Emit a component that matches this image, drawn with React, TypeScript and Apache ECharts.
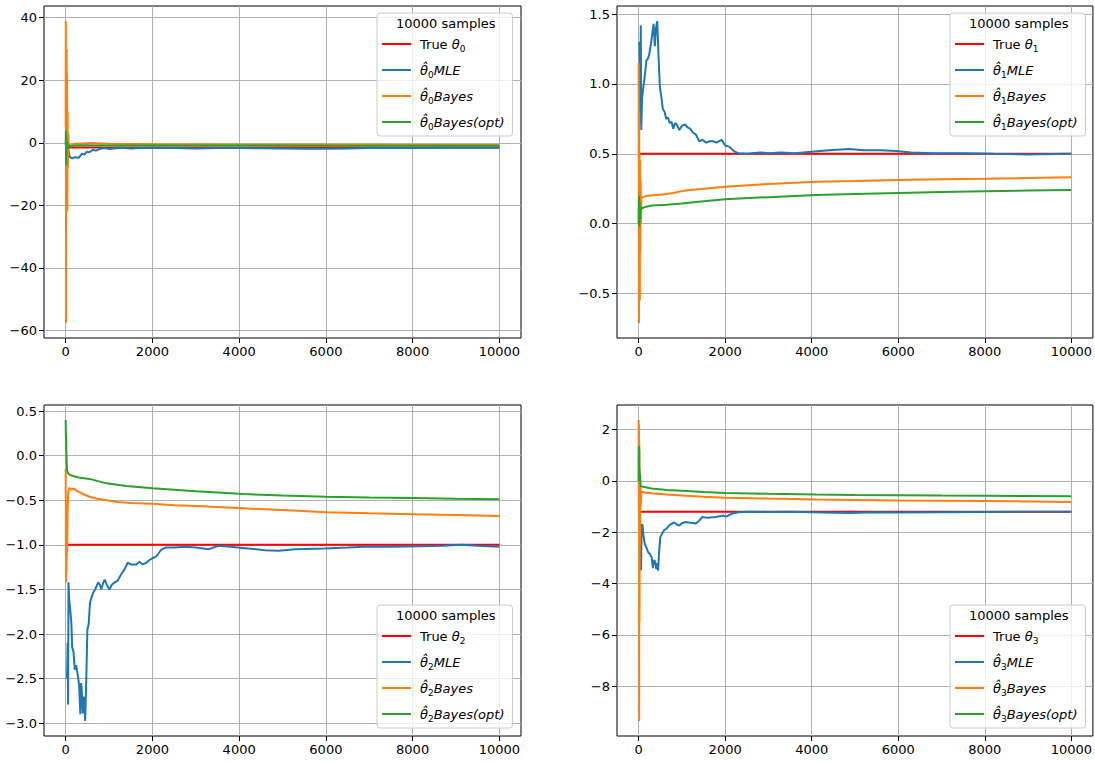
import React, { useEffect, useRef } from 'react';
import * as echarts from 'echarts';

// ---------- data ----------
const xTicks = [0, 2000, 4000, 6000, 8000, 10000];
const yTicks0 = [-60, -40, -20, 0, 20, 40];
const yTicks1 = [-0.5, 0.0, 0.5, 1.0, 1.5];
const yTicks2 = [-3.0, -2.5, -2.0, -1.5, -1.0, -0.5, 0.0, 0.5];
const yTicks3 = [-8, -6, -4, -2, 0, 2];
const yDecimals = [0, 1, 1, 0];

const legendTitle = '10000 samples';
const lastSample = 9999;
const trueTheta = [-1.5, 0.5, -1.0, -1.2];

type P = [number, number][];

const mle0: P = [[5, -0.2], [20, -1.0], [40, -3.0], [60, -2.0], [90, -4.5], [150, -5.0], [220, -4.6], [300, -4.8], [380, -3.5], [430, -3.8], [480, -2.9], [550, -3.0], [620, -2.3], [700, -2.5], [800, -1.9], [900, -1.7], [1000, -2.0], [1100, -1.8], [1300, -1.6], [1500, -1.8], [1700, -1.7], [2000, -1.6], [2500, -1.7], [3000, -1.8], [3500, -1.7], [4000, -1.7], [4500, -1.75], [5000, -1.8], [5500, -1.9], [6000, -1.95], [6500, -1.8], [7000, -1.7], [8000, -1.65], [9000, -1.6], [9999, -1.6]];
const bayes0: P = [[0, 5], [3, 38.9], [6, 20], [9, -57.6], [13, 25], [17, -15], [22, 30], [27, -5], [32, 22], [38, -22], [45, 10], [52, -8], [60, 3], [70, -1], [90, -0.6], [120, -1.0], [200, -0.3], [400, -0.2], [600, -0.1], [800, -0.2], [1000, -0.3], [1500, -0.4], [2000, -0.5], [4000, -0.6], [6000, -0.65], [8000, -0.7], [9999, -0.7]];
const opt0: P = [[0, -1], [5, 3.8], [10, -7.2], [15, 2], [20, -4], [30, 0.5], [45, -2], [60, -0.8], [100, -1.2], [200, -0.9], [400, -0.8], [1000, -0.85], [2000, -0.9], [4000, -0.9], [6000, -0.92], [8000, -0.93], [9999, -0.95]];

const mle1: P = [[5, 1.28], [20, 1.3], [35, 0.72], [50, 1.42], [60, 0.67], [80, 0.9], [110, 0.98], [140, 1.05], [180, 1.17], [215, 1.18], [250, 1.22], [290, 1.3], [320, 1.37], [345, 1.43], [375, 1.27], [400, 1.4], [430, 1.45], [460, 1.2], [490, 0.98], [520, 0.92], [560, 0.82], [600, 0.8], [640, 0.75], [680, 0.76], [720, 0.72], [760, 0.73], [800, 0.68], [840, 0.72], [880, 0.71], [940, 0.67], [1000, 0.7], [1070, 0.71], [1130, 0.69], [1190, 0.68], [1260, 0.65], [1320, 0.64], [1400, 0.59], [1480, 0.6], [1560, 0.58], [1640, 0.59], [1720, 0.59], [1800, 0.58], [1920, 0.6], [2000, 0.56], [2100, 0.55], [2200, 0.52], [2300, 0.505], [2500, 0.5], [2800, 0.51], [3000, 0.505], [3300, 0.51], [3600, 0.505], [4000, 0.515], [4400, 0.525], [4870, 0.535], [5200, 0.525], [5600, 0.525], [5950, 0.52], [6300, 0.51], [6800, 0.505], [7500, 0.505], [8200, 0.5], [9000, 0.495], [9999, 0.5]];
const bayes1: P = [[0, 1.15], [4, 0.3], [8, -0.71], [12, 0.8], [17, -0.3], [22, 0.5], [28, -0.55], [34, 0.45], [40, -0.2], [48, 0.3], [55, 0.0], [65, 0.19], [100, 0.19], [200, 0.2], [400, 0.205], [600, 0.21], [800, 0.22], [1030, 0.235], [1500, 0.25], [2000, 0.265], [3000, 0.285], [4100, 0.3], [5000, 0.305], [6000, 0.313], [7000, 0.318], [8000, 0.322], [9000, 0.327], [9999, 0.332]];
const opt1: P = [[0, 0.0], [8, 0.2], [15, -0.02], [25, 0.15], [35, 0.03], [50, 0.12], [80, 0.11], [150, 0.12], [300, 0.13], [650, 0.135], [1000, 0.145], [1500, 0.16], [2000, 0.175], [3000, 0.19], [4100, 0.205], [5000, 0.212], [6000, 0.22], [7000, 0.226], [8000, 0.232], [9000, 0.237], [9999, 0.242]];

const mle2: P = [[30, -2.5], [45, -2.1], [55, -2.79], [65, -1.42], [80, -1.6], [100, -1.7], [130, -1.87], [150, -2.15], [180, -2.2], [210, -2.4], [240, -2.35], [260, -2.4], [290, -2.5], [310, -2.58], [330, -2.8], [340, -2.9], [355, -2.55], [370, -2.62], [385, -2.8], [400, -2.89], [420, -2.7], [450, -2.975], [470, -2.6], [480, -2.4], [500, -1.95], [530, -1.89], [560, -1.65], [590, -1.6], [630, -1.54], [680, -1.5], [750, -1.42], [790, -1.45], [820, -1.5], [870, -1.42], [900, -1.39], [950, -1.45], [1010, -1.5], [1060, -1.45], [1130, -1.42], [1200, -1.4], [1280, -1.33], [1350, -1.28], [1430, -1.2], [1500, -1.22], [1630, -1.22], [1700, -1.19], [1780, -1.22], [1860, -1.2], [1930, -1.17], [2000, -1.15], [2090, -1.13], [2200, -1.055], [2300, -1.03], [2500, -1.03], [2760, -1.02], [3000, -1.03], [3290, -1.05], [3520, -1.01], [3800, -1.02], [4200, -1.04], [4600, -1.06], [4900, -1.066], [5300, -1.05], [5970, -1.04], [6500, -1.03], [6900, -1.02], [7500, -1.02], [8200, -1.015], [8700, -1.01], [9130, -1.0], [9500, -1.01], [9999, -1.02]];
const bayes2: P = [[0, -0.15], [5, -0.8], [10, -1.42], [15, -0.5], [20, -1.3], [28, -0.7], [35, -1.1], [45, -0.6], [55, -0.45], [70, -0.38], [90, -0.36], [120, -0.38], [180, -0.37], [280, -0.4], [400, -0.43], [550, -0.46], [700, -0.48], [940, -0.5], [1200, -0.52], [1500, -0.53], [2000, -0.54], [2500, -0.555], [3000, -0.565], [4100, -0.59], [5000, -0.61], [6000, -0.633], [7000, -0.645], [8000, -0.656], [9000, -0.665], [9999, -0.675]];
const opt2: P = [[0, 0.4], [5, 0.2], [10, 0.25], [15, 0.05], [25, -0.1], [30, -0.16], [60, -0.2], [100, -0.215], [170, -0.227], [300, -0.245], [550, -0.26], [940, -0.31], [1400, -0.34], [2000, -0.365], [3000, -0.4], [4100, -0.43], [5000, -0.445], [6000, -0.46], [7000, -0.468], [8000, -0.475], [9000, -0.482], [9999, -0.488]];

const mle3: P = [[40, -1.66], [55, -3.48], [70, -1.7], [90, -1.72], [110, -2.1], [140, -2.45], [180, -2.6], [220, -2.78], [260, -2.85], [300, -2.97], [330, -3.4], [350, -3.1], [370, -3.1], [410, -3.43], [430, -3.2], [450, -3.5], [470, -2.85], [500, -2.19], [560, -2.0], [600, -1.9], [640, -1.87], [700, -1.75], [750, -1.68], [820, -1.62], [880, -1.7], [940, -1.74], [1000, -1.65], [1090, -1.6], [1200, -1.63], [1320, -1.66], [1400, -1.55], [1470, -1.41], [1600, -1.44], [1700, -1.42], [1780, -1.41], [1870, -1.38], [1970, -1.35], [2030, -1.39], [2100, -1.32], [2190, -1.26], [2300, -1.22], [2570, -1.2], [3000, -1.21], [3500, -1.2], [4000, -1.22], [4870, -1.25], [5500, -1.22], [6000, -1.23], [7000, -1.22], [8000, -1.21], [9000, -1.2], [9999, -1.2]];
const bayes3: P = [[0, 2.37], [4, -1.0], [8, 2.2], [12, -9.35], [16, 1.5], [21, -5.5], [26, 0.5], [32, -2.5], [40, -0.2], [50, -1.0], [60, -0.45], [80, -0.42], [110, -0.44], [300, -0.48], [650, -0.53], [1000, -0.57], [1500, -0.62], [2000, -0.66], [3000, -0.69], [4100, -0.72], [5000, -0.74], [6000, -0.76], [7000, -0.77], [8000, -0.78], [9000, -0.8], [9999, -0.82]];
const opt3: P = [[0, 0.0], [5, 1.37], [10, 0.5], [15, 1.2], [20, 0.0], [30, 0.3], [45, -0.15], [60, -0.22], [100, -0.23], [300, -0.3], [650, -0.35], [1000, -0.38], [1500, -0.43], [2000, -0.47], [3000, -0.5], [4100, -0.53], [5000, -0.545], [6000, -0.555], [7000, -0.57], [8000, -0.58], [9000, -0.59], [9999, -0.6]];

const mleSeries = [mle0, mle1, mle2, mle3];
const bayesSeries = [bayes0, bayes1, bayes2, bayes3];
const optSeries = [opt0, opt1, opt2, opt3];
const yTickSets = [yTicks0, yTicks1, yTicks2, yTicks3];
const subscripts = ['₀', '₁', '₂', '₃'];
const subDigits = ['0', '1', '2', '3'];

// ---------- layout / style ----------
const FONT = 'DejaVu Sans';
const COLORS = { true: '#ff0000', mle: '#1f77b4', bayes: '#ff7f0e', opt: '#2ca02c' };
const GRIDS = [
  { left: 44, top: 6, width: 477, height: 332 },
  { left: 617, top: 6, width: 477, height: 332 },
  { left: 44, top: 405, width: 477, height: 331 },
  { left: 617, top: 405, width: 477, height: 331 },
];
const LEGEND_POS = [
  { left: 377, top: 13 },
  { left: 950, top: 13 },
  { left: 377, top: 605 },
  { left: 950, top: 605 },
];

const fmt = (v: number, d: number) => {
  const s = Math.abs(v) < 1e-9 ? (0).toFixed(d) : v.toFixed(d);
  return s.replace('-', '\u2212');
};

function buildOption() {
  const grid: any[] = [];
  const xAxis: any[] = [];
  const yAxis: any[] = [];
  const series: any[] = [];
  const legend: any[] = [];
  const graphic: any[] = [];

  for (let i = 0; i < 4; i++) {
    const g = GRIDS[i];
    grid.push({ ...g, show: true, borderColor: '#000', borderWidth: 1, backgroundColor: 'transparent' });
    const pad = (e: any) => 0.05 * (e.max - e.min);
    xAxis.push({
      type: 'value',
      gridIndex: i,
      min: (e: any) => e.min - pad(e),
      max: (e: any) => e.max + pad(e),
      axisLine: { show: false, onZero: false },
      axisTick: { show: true, customValues: xTicks, length: 5, lineStyle: { color: '#000', width: 1 } },
      axisLabel: { customValues: xTicks, color: '#000', fontSize: 13, fontFamily: FONT, margin: 7, formatter: (v: number) => fmt(v, 0) },
      splitLine: { show: true, lineStyle: { color: '#b0b0b0', width: 1 } },
    });
    yAxis.push({
      type: 'value',
      gridIndex: i,
      min: (e: any) => e.min - pad(e),
      max: (e: any) => e.max + pad(e),
      axisLine: { show: false, onZero: false },
      axisTick: { show: true, customValues: yTickSets[i], length: 5, lineStyle: { color: '#000', width: 1 } },
      axisLabel: { customValues: yTickSets[i], color: '#000', fontSize: 13, fontFamily: FONT, margin: 7, formatter: (v: number) => fmt(v, yDecimals[i]) },
      splitLine: { show: true, lineStyle: { color: '#b0b0b0', width: 1 } },
    });

    const sub = subscripts[i];
    const names = [`True θ${sub}`, `θ̂${sub}MLE`, `θ̂${sub}Bayes`, `θ̂${sub}Bayes(opt)`];
    const datas: P[] = [[[0, trueTheta[i]], [lastSample, trueTheta[i]]], mleSeries[i], bayesSeries[i], optSeries[i]];
    const cols = [COLORS.true, COLORS.mle, COLORS.bayes, COLORS.opt];
    names.forEach((n, k) => {
      series.push({
        type: 'line',
        name: n,
        xAxisIndex: i,
        yAxisIndex: i,
        data: datas[k],
        showSymbol: false,
        symbol: 'none',
        lineStyle: { color: cols[k], width: 2 },
        itemStyle: { color: cols[k] },
        z: 2 + k,
      });
    });

    const lp = LEGEND_POS[i];
    const digit = subDigits[i];
    legend.push({
      orient: 'vertical',
      left: lp.left,
      top: lp.top,
      data: names,
      icon: 'rect',
      itemWidth: 29,
      itemHeight: 2,
      itemGap: 8,
      padding: [22, 8, 5, 5],
      backgroundColor: 'rgba(255,255,255,0.8)',
      borderColor: '#cccccc',
      borderWidth: 1,
      borderRadius: 3,
      selectedMode: false,
      z: 10,
      textStyle: {
        fontFamily: FONT,
        fontSize: 13,
        color: '#000',
        lineHeight: 18,
        rich: {
          pad: { width: 4, lineHeight: 18 },
          r: { fontFamily: FONT, fontSize: 13, color: '#000', lineHeight: 18 },
          i: { fontFamily: FONT, fontSize: 13, color: '#000', fontStyle: 'italic', lineHeight: 18 },
          s: { fontFamily: FONT, fontSize: 9, color: '#000', lineHeight: 10, verticalAlign: 'bottom' },
        },
      },
      formatter: (name: string) => {
        if (name.startsWith('True ')) return `{pad|}{r|True }{i|θ}{s|${digit}}`;
        const rest = name.slice(3);
        return `{pad|}{i|θ̂}{s|${digit}}{i|${rest}}`;
      },
    });
    graphic.push({
      type: 'text',
      z: 100,
      left: lp.left + 19,
      top: lp.top + 4,
      style: { text: legendTitle, fontFamily: FONT, fontSize: 13, fill: '#000' },
    });
  }

  return { animation: false, backgroundColor: '#fff', grid, xAxis, yAxis, series, legend, graphic };
}

export default function App() {
  const ref = useRef<HTMLDivElement>(null);
  useEffect(() => {
    if (!ref.current) return;
    const chart = echarts.init(ref.current, undefined, { renderer: 'svg' });
    chart.setOption(buildOption() as any);
    return () => chart.dispose();
  }, []);
  return <div ref={ref} style={{ position: 'absolute', left: 0, top: 0, width: 1095, height: 762 }} />;
}
